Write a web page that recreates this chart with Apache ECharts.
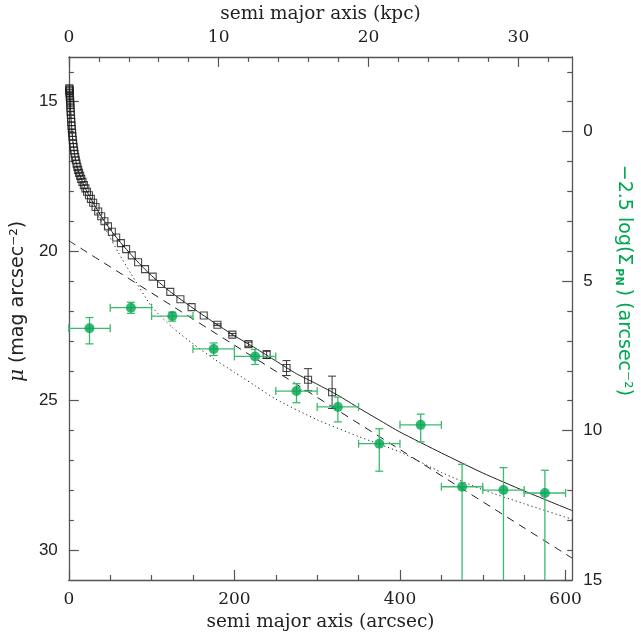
<!DOCTYPE html>
<html><head><meta charset="utf-8">
<script src="https://cdn.jsdelivr.net/npm/echarts@6/dist/echarts.min.js"></script>
<style>html,body{margin:0;padding:0;background:#fff}#c{width:641px;height:637px}</style>
</head><body><div id="c"></div>
<script>
// ---- photometric profile (open squares): radius (arcsec), mu (mag arcsec^-2), error
var sqR = [0.71,0.79,0.86,0.95,1.05,1.15,1.27,1.39,1.53,1.68,1.85,2.04,2.24,2.46,2.71,2.98,3.28,3.61,3.97,4.36,4.8,5.28,5.81,6.39,7.03,7.73,8.5,9.35,10.3,11.3,12.4,13.7,15.0,16.5,18.2,20.0,22.0,24.3,26.7,29.4,32.3,35.5,39.1,43.0,47.3,52.0,57.2,62.9,69.2,76.1,83.7,92.1,101.3,111.4,122.6,134.8,148.3,163,179.5,197.5,217,239,263,289,318];
var sqMu = [14.55,14.58,14.62,14.66,14.71,14.76,14.82,14.88,14.95,15.03,15.12,15.22,15.33,15.44,15.56,15.68,15.8,15.92,16.04,16.16,16.28,16.4,16.52,16.63,16.74,16.85,16.96,17.07,17.18,17.28,17.38,17.48,17.58,17.68,17.79,17.9,18.01,18.13,18.25,18.38,18.52,18.67,18.83,19.0,19.17,19.35,19.54,19.73,19.93,20.14,20.37,20.6,20.85,21.1,21.36,21.61,21.87,22.15,22.46,22.79,23.11,23.46,23.91,24.3,24.72];
var sqErr = [0,0,0,0,0,0,0,0,0,0,0,0,0,0,0,0,0,0,0,0,0,0,0,0,0,0,0,0,0,0,0,0,0,0,0,0,0,0,0,0,0,0,0,0,0,0,0,0,0,0,0,0,0,0,0,0,0,0,0.03,0.04,0.07,0.13,0.25,0.37,0.54];

// ---- model curves
var solidR  = [0.5,0.71,1,1.5,2,3,4,5,6.5,8,10,12,15,20,25,30,40,50,60,70,80,90,100,120,140,160,180,200,225,250,275,300,325,350,375,400,450,500,550,608];
var solidMu = [14.5,14.55,14.69,14.94,15.2,15.69,16.05,16.33,16.65,16.92,17.15,17.35,17.58,17.9,18.16,18.41,18.87,19.27,19.63,19.95,20.26,20.55,20.82,21.3,21.71,22.1,22.47,22.83,23.24,23.67,24.1,24.45,24.82,25.24,25.65,26.05,26.75,27.42,28.02,28.68];
var dashR  = [0,608];
var dashMu = [19.65,30.27];
var dotR  = [0.5,1,2,3,5,8,12,20,30,40,50,60,75,100,125,150,175,200,225,250,300,350,400,450,500,550,608];
var dotMu = [14.52,14.71,15.23,15.71,16.36,16.97,17.43,18.07,18.55,19.05,19.55,20.05,20.75,21.85,22.55,23.1,23.6,24.05,24.5,24.95,25.64,26.2,26.72,27.4,27.98,28.45,28.97];

// ---- planetary nebulae counts (green), right-axis units: -2.5 log(Sigma_PN)
var pnR    = [25,75,125,175,225,275,325,375,425,475,525,575];
var pnVal  = [6.58,5.89,6.17,7.27,7.52,8.68,9.21,10.44,9.81,11.88,11.99,12.09];
var pnXErr = [25,25,25,25,25,25,25,25,25,25,25,25];
var pnUp   = [0.36,0.18,0.13,0.2,0.23,0.25,0.33,0.5,0.36,0.75,0.75,0.76];
var pnDown = [0.52,0.19,0.17,0.22,0.27,0.39,0.5,0.92,0.57,null,null,null];

// ---- ticks
var bottomMajor = [0,200,400,600];
var bottomMinor = [50,100,150,250,300,350,450,500,550];
var topMajor = [0,10,20,30];
var topMinor = [2,4,6,8,12,14,16,18,22,24,26,28,32];
var leftMajor = [15,20,25,30];
var leftMinor = [14,16,17,18,19,21,22,23,24,26,27,28,29];
var rightMajor = [0,5,10,15];
var rightMinor = [-2,-1,1,2,3,4,6,7,8,9,11,12,13,14];

var X_MAX = 608, ARCSEC_PER_KPC = 18.1;
var MU_MIN = 13.5, MU_MAX = 31, R_MIN = -2.5, R_MAX = 15;

var AX = '#555', TXT = '#222', GREEN = '#00a651', GREEN_BAR = '#3cba6c';
var serif = '"DejaVu Serif", "Liberation Serif", serif';
var sans = '"DejaVu Sans", "Liberation Sans", sans-serif';
var lsans = '"Liberation Sans", "DejaVu Sans", sans-serif';

function zip(a, b) { return a.map(function (v, i) { return [v, b[i]]; }); }

function axisPair(kind, pos, min, max, major, minor, labelFont, extra) {
  var base = { position: pos, type: 'value', min: min, max: max, splitLine: { show: false } };
  if (kind === 'y') base.inverse = true;
  var maj = Object.assign({}, base, {
    axisLine: { show: true, onZero: false, lineStyle: { color: AX, width: 1.3 } },
    axisTick: { show: true, inside: true, length: 10, customValues: major, lineStyle: { color: AX, width: 1.2 } },
    axisLabel: { show: true, customValues: major, fontFamily: labelFont, fontSize: 17, color: TXT, margin: 11 }
  }, extra || {});
  var mnr = Object.assign({}, base, {
    axisLine: { show: false, onZero: false },
    axisTick: { show: true, inside: true, length: 5, customValues: minor, lineStyle: { color: AX, width: 1.2 } },
    axisLabel: { show: false }
  });
  return [maj, mnr];
}

var xb = axisPair('x', 'bottom', 0, X_MAX, bottomMajor, bottomMinor, serif, {
  name: 'semi major axis (arcsec)', nameLocation: 'middle', nameGap: 32,
  nameTextStyle: { fontFamily: serif, fontSize: 18.5, color: TXT }
});
var xt = axisPair('x', 'top', 0, X_MAX / ARCSEC_PER_KPC, topMajor, topMinor, serif, {
  name: 'semi major axis (kpc)', nameLocation: 'middle', nameGap: 30,
  nameTextStyle: { fontFamily: serif, fontSize: 18.5, color: TXT }
});
var yl = axisPair('y', 'left', MU_MIN, MU_MAX, leftMajor, leftMinor, lsans, {
  name: '{mu|\u03bc} (mag arcsec\u207b\u00b2)', nameLocation: 'middle', nameGap: 36, nameRotate: 90,
  nameTextStyle: { fontFamily: sans, fontSize: 19, color: TXT, padding: [0, 0, 0, 34],
    rich: { mu: { fontStyle: 'italic', fontFamily: serif, fontSize: 20, color: TXT } } }
});
var yr = axisPair('y', 'right', R_MIN, R_MAX, rightMajor, rightMinor, lsans, {
  name: '\u22122.5 log(\u03a3{sub|PN}) (arcsec\u207b\u00b2)', nameLocation: 'middle', nameGap: 33, nameRotate: -90,
  nameTextStyle: { fontFamily: sans, fontSize: 19, color: GREEN, padding: [0, 76, 0, 0],
    rich: { sub: { fontFamily: sans, fontSize: 11, fontWeight: 'bold', color: GREEN, padding: [10, 3, 0, 3] } } }
});

function lineSeries(data, type) {
  return { type: 'line', xAxisIndex: 0, yAxisIndex: 0, data: data, symbol: 'none', smooth: 0.2,
    lineStyle: { color: '#222', width: 1, type: type }, z: 2, silent: true };
}

var option = {
  animation: false,
  backgroundColor: '#fff',
  grid: { left: 61, right: 54, top: 52, bottom: 57, containLabel: false },
  xAxis: [xb[0], xb[1], xt[0], xt[1]],
  yAxis: [yl[0], yl[1], yr[0], yr[1]],
  series: [
    lineSeries(zip(solidR, solidMu), 'solid'),
    lineSeries(zip(dashR, dashMu), [8, 6]),
    lineSeries(zip(dotR, dotMu), [1.2, 3]),
    {
      type: 'custom', coordinateSystem: 'cartesian2d', xAxisIndex: 0, yAxisIndex: 0, z: 3, silent: true,
      data: sqR.map(function (r, i) { return [r, sqMu[i], sqErr[i]]; }),
      renderItem: function (params, api) {
        var e = api.value(2);
        if (!(e > 0)) return;
        var x = api.value(0), y = api.value(1);
        var p1 = api.coord([x, y - e]), p2 = api.coord([x, y + e]);
        var c = 4, st = { stroke: '#333', lineWidth: 1 };
        return { type: 'group', children: [
          { type: 'line', shape: { x1: p1[0], y1: p1[1], x2: p2[0], y2: p2[1] }, style: st },
          { type: 'line', shape: { x1: p1[0] - c, y1: p1[1], x2: p1[0] + c, y2: p1[1] }, style: st },
          { type: 'line', shape: { x1: p2[0] - c, y1: p2[1], x2: p2[0] + c, y2: p2[1] }, style: st }
        ] };
      }
    },
    {
      type: 'scatter', xAxisIndex: 0, yAxisIndex: 0, data: zip(sqR, sqMu), symbol: 'rect', symbolSize: 7,
      itemStyle: { color: 'rgba(255,255,255,0)', borderColor: '#1a1a1a', borderWidth: 1.1 }, z: 4, silent: true
    },
    {
      type: 'custom', coordinateSystem: 'cartesian2d', xAxisIndex: 0, yAxisIndex: 2, z: 5, silent: true,
      data: pnR.map(function (r, i) { return [r, pnVal[i], pnXErr[i], pnUp[i], pnDown[i] == null ? '-' : pnDown[i]]; }),
      renderItem: function (params, api) {
        var x = api.value(0), y = api.value(1), xe = api.value(2), up = api.value(3), dn = api.value(4);
        var lo = isNaN(dn) ? R_MAX : y + dn;
        var pl = api.coord([x - xe, y]), pr = api.coord([x + xe, y]);
        var pt = api.coord([x, y - up]), pb = api.coord([x, lo]);
        var st = { stroke: GREEN_BAR, lineWidth: 1.3 };
        var ch = [
          { type: 'line', shape: { x1: pl[0], y1: pl[1], x2: pr[0], y2: pr[1] }, style: st },
          { type: 'line', shape: { x1: pl[0], y1: pl[1] - 4, x2: pl[0], y2: pl[1] + 4 }, style: st },
          { type: 'line', shape: { x1: pr[0], y1: pr[1] - 4, x2: pr[0], y2: pr[1] + 4 }, style: st },
          { type: 'line', shape: { x1: pt[0], y1: pt[1], x2: pb[0], y2: pb[1] }, style: st },
          { type: 'line', shape: { x1: pt[0] - 4, y1: pt[1], x2: pt[0] + 4, y2: pt[1] }, style: st }
        ];
        if (!isNaN(dn)) ch.push({ type: 'line', shape: { x1: pb[0] - 4, y1: pb[1], x2: pb[0] + 4, y2: pb[1] }, style: st });
        return { type: 'group', children: ch };
      }
    },
    {
      type: 'scatter', xAxisIndex: 0, yAxisIndex: 2, data: zip(pnR, pnVal), symbol: 'circle', symbolSize: 10,
      itemStyle: { color: GREEN }, z: 6, silent: true
    }
  ]
};
var chart = echarts.init(document.getElementById('c'));
chart.setOption(option);
</script>
</body></html>
